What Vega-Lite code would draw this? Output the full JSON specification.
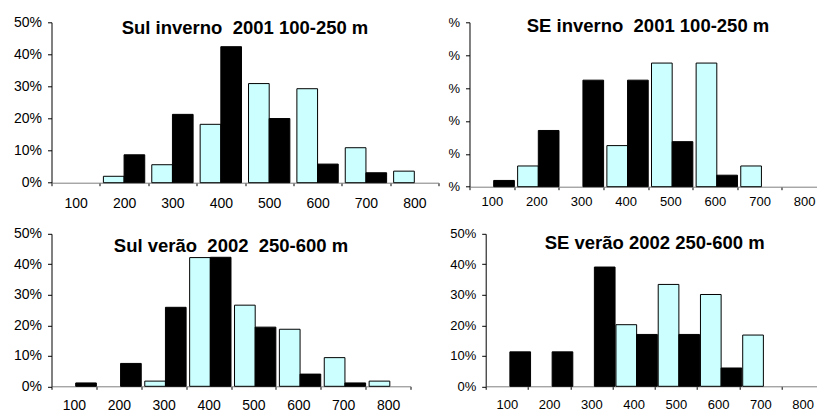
{
  "$schema": "https://vega.github.io/schema/vega-lite/v6.json",
  "padding": {"left": 12.5, "top": 15.3, "right": 0, "bottom": 0},
  "background": "white",
  "data": {"values": [
    {"panel": "p1", "cat": "200", "series": "c", "value": 2.0},
    {"panel": "p1", "cat": "200", "series": "b", "value": 8.7},
    {"panel": "p1", "cat": "300", "series": "c", "value": 5.6},
    {"panel": "p1", "cat": "300", "series": "b", "value": 21.3},
    {"panel": "p1", "cat": "400", "series": "c", "value": 18.2},
    {"panel": "p1", "cat": "400", "series": "b", "value": 42.4},
    {"panel": "p1", "cat": "500", "series": "c", "value": 30.9},
    {"panel": "p1", "cat": "500", "series": "b", "value": 20.0},
    {"panel": "p1", "cat": "600", "series": "c", "value": 29.3},
    {"panel": "p1", "cat": "600", "series": "b", "value": 5.8},
    {"panel": "p1", "cat": "700", "series": "c", "value": 10.9},
    {"panel": "p1", "cat": "700", "series": "b", "value": 3.1},
    {"panel": "p1", "cat": "800", "series": "c", "value": 3.6},
    {"panel": "p2", "cat": "100", "series": "b", "value": 1.9},
    {"panel": "p2", "cat": "200", "series": "c", "value": 6.3},
    {"panel": "p2", "cat": "200", "series": "b", "value": 17.1},
    {"panel": "p2", "cat": "300", "series": "b", "value": 32.4},
    {"panel": "p2", "cat": "400", "series": "c", "value": 12.5},
    {"panel": "p2", "cat": "400", "series": "b", "value": 32.4},
    {"panel": "p2", "cat": "500", "series": "c", "value": 37.6},
    {"panel": "p2", "cat": "500", "series": "b", "value": 13.7},
    {"panel": "p2", "cat": "600", "series": "c", "value": 37.6},
    {"panel": "p2", "cat": "600", "series": "b", "value": 3.5},
    {"panel": "p2", "cat": "700", "series": "c", "value": 6.3},
    {"panel": "p3", "cat": "100", "series": "b", "value": 1.1},
    {"panel": "p3", "cat": "200", "series": "b", "value": 7.5},
    {"panel": "p3", "cat": "300", "series": "c", "value": 1.7},
    {"panel": "p3", "cat": "300", "series": "b", "value": 25.9},
    {"panel": "p3", "cat": "400", "series": "c", "value": 42.2},
    {"panel": "p3", "cat": "400", "series": "b", "value": 42.3},
    {"panel": "p3", "cat": "500", "series": "c", "value": 26.6},
    {"panel": "p3", "cat": "500", "series": "b", "value": 19.4},
    {"panel": "p3", "cat": "600", "series": "c", "value": 18.7},
    {"panel": "p3", "cat": "600", "series": "b", "value": 4.0},
    {"panel": "p3", "cat": "700", "series": "c", "value": 9.4},
    {"panel": "p3", "cat": "700", "series": "b", "value": 1.1},
    {"panel": "p3", "cat": "800", "series": "c", "value": 1.7},
    {"panel": "p4", "cat": "100", "series": "b", "value": 11.3},
    {"panel": "p4", "cat": "200", "series": "b", "value": 11.3},
    {"panel": "p4", "cat": "300", "series": "b", "value": 39.1},
    {"panel": "p4", "cat": "400", "series": "c", "value": 20.2},
    {"panel": "p4", "cat": "400", "series": "b", "value": 17.0},
    {"panel": "p4", "cat": "500", "series": "c", "value": 33.4},
    {"panel": "p4", "cat": "500", "series": "b", "value": 17.0},
    {"panel": "p4", "cat": "600", "series": "c", "value": 30.1},
    {"panel": "p4", "cat": "600", "series": "b", "value": 6.0},
    {"panel": "p4", "cat": "700", "series": "c", "value": 16.8}
  ]},
  "config": {
    "view": {"stroke": null},
    "font": "Liberation Sans",
    "axis": {"grid": false, "title": null, "labelColor": "#000000", "labelFont": "Liberation Sans", "tickColor": "#000000", "domainColor": "#000000", "domainWidth": 1, "tickWidth": 1},
    "axisX": {"labelAngle": 0, "tickBand": "extent", "tickSize": 3, "domainColor": "#808080"},
    "axisY": {"tickSize": 4, "labelPadding": 6, "values": [0, 10, 20, 30, 40, 50]},
    "title": {"font": "Liberation Sans", "fontWeight": "bold", "fontSize": 18.5, "frame": "group", "anchor": "middle", "color": "#000000"},
    "bar": {"stroke": "#000000", "strokeWidth": 1}
  },
  "spacing": 15.5,
  "vconcat": [
    {
      "spacing": 8,
      "hconcat": [
        {
          "width": 387, "height": 160.4,
          "title": {"text": "Sul inverno \u00a02001 100-250 m", "offset": -22.6},
          "transform": [{"filter": "datum.panel === 'p1'"}],
          "mark": {"type": "bar"},
          "encoding": {
            "x": {"field": "cat", "type": "nominal", "scale": {"domain": ["100","200","300","400","500","600","700","800"], "paddingInner": 0, "paddingOuter": 0}, "axis": {"labelFontSize": 14, "labelPadding": 11.3}},
            "xOffset": {"field": "series", "scale": {"domain": ["c", "b"], "paddingInner": 0, "paddingOuter": 0.17}},
            "y": {"field": "value", "type": "quantitative", "scale": {"domain": [0, 50]}, "axis": {"labelFontSize": 14, "labelExpr": "datum.value + '%'"}},
            "color": {"field": "series", "scale": {"domain": ["c", "b"], "range": ["#CCFFFF", "#000000"]}, "legend": null}
          }
        },
        {
          "width": 357, "height": 164.4,
          "title": {"text": "SE inverno \u00a02001 100-250 m", "offset": -19.6},
          "transform": [{"filter": "datum.panel === 'p2'"}],
          "mark": {"type": "bar"},
          "encoding": {
            "x": {"field": "cat", "type": "nominal", "scale": {"domain": ["100","200","300","400","500","600","700","800"], "paddingInner": 0, "paddingOuter": 0}, "axis": {"labelFontSize": 13, "labelPadding": 6}},
            "xOffset": {"field": "series", "scale": {"domain": ["c", "b"], "paddingInner": 0, "paddingOuter": 0.17}},
            "y": {"field": "value", "type": "quantitative", "scale": {"domain": [0, 50]}, "axis": {"labelFontSize": 13, "labelExpr": "'%'"}},
            "color": {"field": "series", "scale": {"domain": ["c", "b"], "range": ["#CCFFFF", "#000000"]}, "legend": null}
          }
        }
      ]
    },
    {
      "spacing": 37.2,
      "hconcat": [
        {
          "width": 359, "height": 152.5,
          "title": {"text": "Sul verão \u00a02002 \u00a0250-600 m", "offset": -28.4},
          "transform": [{"filter": "datum.panel === 'p3'"}],
          "mark": {"type": "bar"},
          "encoding": {
            "x": {"field": "cat", "type": "nominal", "scale": {"domain": ["100","200","300","400","500","600","700","800"], "paddingInner": 0, "paddingOuter": 0}, "axis": {"labelFontSize": 14, "labelPadding": 9}},
            "xOffset": {"field": "series", "scale": {"domain": ["c", "b"], "paddingInner": 0, "paddingOuter": 0.17}},
            "y": {"field": "value", "type": "quantitative", "scale": {"domain": [0, 50]}, "axis": {"labelFontSize": 14, "labelExpr": "datum.value + '%'"}},
            "color": {"field": "series", "scale": {"domain": ["c", "b"], "range": ["#CCFFFF", "#000000"]}, "legend": null}
          }
        },
        {
          "width": 338, "height": 152.5,
          "title": {"text": "SE verão 2002 250-600 m", "offset": -24.9},
          "transform": [{"filter": "datum.panel === 'p4'"}],
          "mark": {"type": "bar"},
          "encoding": {
            "x": {"field": "cat", "type": "nominal", "scale": {"domain": ["100","200","300","400","500","600","700","800"], "paddingInner": 0, "paddingOuter": 0}, "axis": {"labelFontSize": 13, "labelPadding": 9}},
            "xOffset": {"field": "series", "scale": {"domain": ["c", "b"], "paddingInner": 0, "paddingOuter": 0.17}},
            "y": {"field": "value", "type": "quantitative", "scale": {"domain": [0, 50]}, "axis": {"labelFontSize": 13, "labelExpr": "datum.value + '%'"}},
            "color": {"field": "series", "scale": {"domain": ["c", "b"], "range": ["#CCFFFF", "#000000"]}, "legend": null}
          }
        }
      ]
    }
  ],
  "resolve": {"scale": {"color": "independent"}}
}
